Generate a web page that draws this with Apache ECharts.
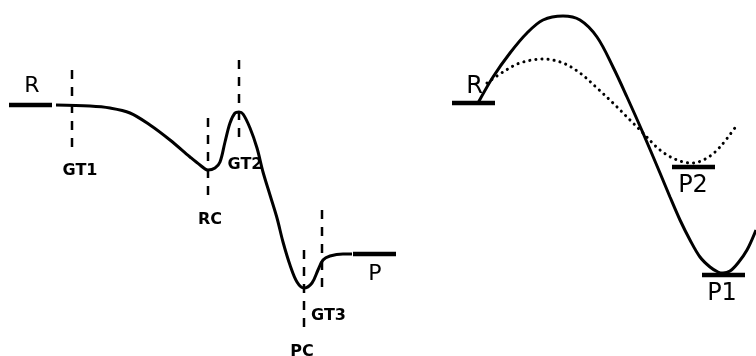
<!DOCTYPE html>
<html>
<head>
<meta charset="utf-8">
<script src="https://cdn.jsdelivr.net/npm/echarts@6/dist/echarts.min.js"></script>
<style>
  html, body { margin: 0; padding: 0; background: #ffffff; }
  #chart { width: 756px; height: 356px; }
</style>
</head>
<body>
<div id="chart"></div>
<script>
// Energy profiles: x = reaction coordinate, y = energy relative to reactants (R = 0)

// Left: stepwise pathway R -> RC -> PC -> P through GT1, GT2, GT3
const stepwiseProfile = [
  [56, 0], [90, -1], [110, -3], [130, -8], [150, -20], [170, -35],
  [190, -52], [200, -60], [208, -65], [215, -63], [220, -57], [225, -37],
  [230, -18], [235, -8], [239, -7], [243, -9], [250, -23], [257, -43],
  [263, -67], [270, -90], [277, -113], [283, -137], [290, -160], [297, -177],
  [304, -183], [312, -178], [318, -165], [323, -155], [330, -151],
  [343, -149], [352, -149]
];

// Right: competing pathways from R to P1 (solid) and P2 (dotted)
const pathToP1 = [
  [478, 2], [493, 28], [510, 52], [527, 72], [543, 85], [563, 89],
  [580, 85], [597, 68], [613, 38], [627, 8], [643, -28], [660, -68],
  [670, -92], [680, -115], [690, -135], [700, -152], [710, -162],
  [718, -167], [723, -168], [730, -166], [738, -158], [747, -145], [756, -125]
];
const pathToP2 = [
  [487, 22], [503, 33], [520, 42], [543, 46], [563, 42], [580, 32],
  [597, 17], [613, 2], [630, -15], [643, -28], [660, -45], [677, -55],
  [692, -58], [707, -53], [720, -42], [737, -20]
];

// Stationary energy levels
const levelNames  = ['R', 'P', 'R', 'P2', 'P1'];
const levelFrom   = [9, 353, 452, 672, 702];
const levelTo     = [52, 396, 495, 715, 745];
const levelEnergy = [0, -149, 2, -62, -170];

// Dashed markers for complexes and transition states
const guideNames  = ['GT1', 'RC', 'GT2', 'PC', 'GT3'];
const guideX      = [72, 208, 239, 304, 322];
const guideTop    = [35, -13, 45, -145, -105];
const guideBottom = [-45, -93, -35, -228, -185];

// Label placement in pixels from the anchor point (styling only)
const levelLabelShift = [[1.5, -19], [0.5, 20.5], [1, -16.5], [-0.5, 19], [-1.5, 19]];
const levelLabelSize  = [22, 22, 24, 24, 24];
const guideLabelShift = [[8, 20.5], [2, 21.5], [6, 24.5], [-2, 18.5], [6.5, 26]];

const INK = '#000000';
const series = [];

// Dashed guides
guideNames.forEach((name, i) => {
  series.push({
    type: 'line',
    name: name,
    data: [[guideX[i], guideTop[i]], [guideX[i], guideBottom[i]]],
    symbol: 'none',
    silent: true,
    lineStyle: { color: INK, width: 2.5, type: [9, 8] },
    z: 2
  });
});

// Energy level bars
levelNames.forEach((name, i) => {
  series.push({
    type: 'line',
    name: name,
    data: [[levelFrom[i], levelEnergy[i]], [levelTo[i], levelEnergy[i]]],
    symbol: 'none',
    silent: true,
    lineStyle: { color: INK, width: 4.5, cap: 'butt' },
    z: 4
  });
});

// Profiles
series.push({
  type: 'line', name: 'stepwise', data: stepwiseProfile,
  smooth: 0.34, symbol: 'none', silent: true,
  lineStyle: { color: INK, width: 3 }, z: 3
});
series.push({
  type: 'line', name: 'to P1', data: pathToP1,
  smooth: 0.34, symbol: 'none', silent: true,
  lineStyle: { color: INK, width: 3 }, z: 3
});
series.push({
  type: 'line', name: 'to P2', data: pathToP2,
  smooth: 0.34, symbol: 'none', silent: true,
  lineStyle: { color: INK, width: 3, type: [0.1, 6], cap: 'round' }, z: 3
});

// Text-only scatter layer: invisible anchors carrying the labels
function textLayer(name, items) {
  return {
    type: 'scatter',
    name: name,
    symbol: 'circle',
    symbolSize: 1,
    silent: true,
    itemStyle: { color: 'rgba(255,255,255,0)' },
    labelLayout: { hideOverlap: false },
    data: items,
    z: 6
  };
}

function labelAt(shift, size, weight) {
  return {
    show: true,
    formatter: '{b}',
    position: [shift[0] + 0.5, shift[1] + 0.5],
    align: 'center',
    verticalAlign: 'middle',
    fontFamily: 'DejaVu Sans',
    fontWeight: weight,
    fontSize: size,
    color: INK,
    opacity: 1
  };
}

// Level labels
series.push(textLayer('level labels', levelNames.map((name, i) => ({
  name: name,
  value: [(levelFrom[i] + levelTo[i]) / 2, levelEnergy[i]],
  label: labelAt(levelLabelShift[i], levelLabelSize[i], 'normal')
}))));

// Guide labels
series.push(textLayer('guide labels', guideNames.map((name, i) => ({
  name: name,
  value: [guideX[i], guideBottom[i]],
  label: labelAt(guideLabelShift[i], 16, 'bold')
}))));

const chart = echarts.init(document.getElementById('chart'), null, { renderer: 'canvas' });
chart.setOption({
  animation: false,
  backgroundColor: '#ffffff',
  grid: { left: 0, right: 0, top: 0, bottom: 0 },
  xAxis: { type: 'value', min: 0, max: 756, show: false },
  yAxis: { type: 'value', min: -251, max: 105, show: false },
  series: series
});
</script>
</body>
</html>
